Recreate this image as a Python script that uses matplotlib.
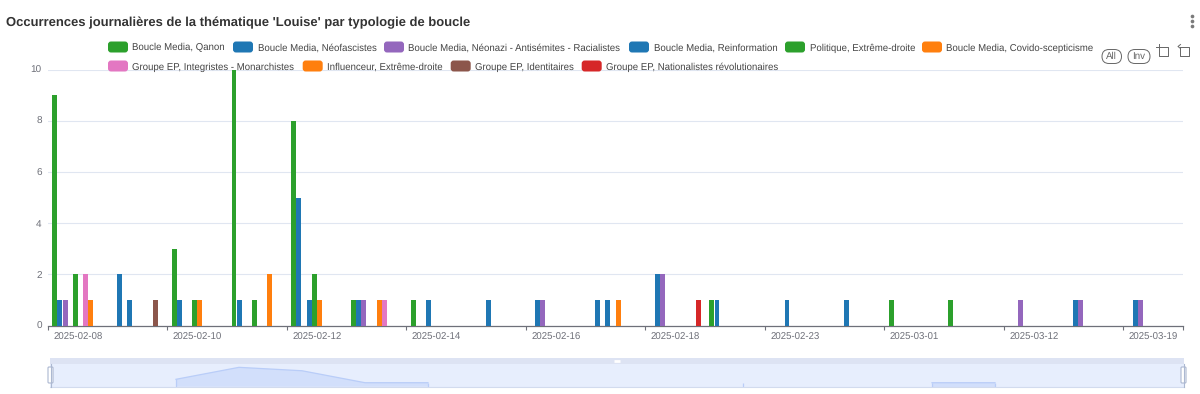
import numpy as np
import matplotlib
matplotlib.use('Agg')
import matplotlib.pyplot as plt
from matplotlib.patches import FancyBboxPatch

plt.rcParams['font.family'] = ['Liberation Sans', 'DejaVu Sans']
plt.rcParams['text.hinting'] = 'no_hinting'

title = "Occurrences journalières de la thématique 'Louise' par typologie de boucle"

# one value per day shown on the axis (19 bands), only every other label is visible
tick_labels = ['2025-02-08', '2025-02-10', '2025-02-12', '2025-02-14', '2025-02-16',
               '2025-02-18', '2025-02-23', '2025-03-01', '2025-03-12', '2025-03-19']

names = ['Boucle Media, Qanon', 'Boucle Media, Néofascistes',
         'Boucle Media, Néonazi - Antisémites - Racialistes', 'Boucle Media, Reinformation',
         'Politique, Extrême-droite', 'Boucle Media, Covido-scepticisme',
         'Groupe EP, Integristes - Monarchistes', 'Influenceur, Extrême-droite',
         'Groupe EP, Identitaires', 'Groupe EP, Nationalistes révolutionaires']
colors = ['#2ca02c', '#1f77b4', '#9467bd', '#1f77b4', '#2ca02c',
          '#ff7f0e', '#e377c2', '#ff7f0e', '#8c564b', '#d62728']

qanon =         [9, 0, 3, 10, 8, 1, 1, 0, 0, 0, 0, 1, 0, 0, 1, 1, 0, 0, 0]
neofascistes =  [1, 2, 1, 1, 5, 1, 0, 0, 1, 1, 2, 1, 0, 0, 0, 0, 0, 1, 1]
neonazi =       [1, 0, 0, 0, 0, 1, 0, 0, 1, 0, 2, 0, 0, 0, 0, 0, 1, 1, 1]
reinformation = [0, 1, 0, 0, 1, 0, 1, 1, 0, 1, 0, 0, 1, 1, 0, 0, 0, 0, 0]
politique =     [2, 0, 1, 1, 2, 0, 0, 0, 0, 0, 0, 0, 0, 0, 0, 0, 0, 0, 0]
covido =        [0, 0, 1, 0, 1, 1, 0, 0, 0, 1, 0, 0, 0, 0, 0, 0, 0, 0, 0]
integristes =   [2, 0, 0, 0, 0, 1, 0, 0, 0, 0, 0, 0, 0, 0, 0, 0, 0, 0, 0]
influenceur =   [1, 0, 0, 2, 0, 0, 0, 0, 0, 0, 0, 0, 0, 0, 0, 0, 0, 0, 0]
identitaires =  [0, 1, 0, 0, 0, 0, 0, 0, 0, 0, 0, 0, 0, 0, 0, 0, 0, 0, 0]
nationalistes = [0, 0, 0, 0, 0, 0, 0, 0, 0, 0, 1, 0, 0, 0, 0, 0, 0, 0, 0]
series = [qanon, neofascistes, neonazi, reinformation, politique,
          covido, integristes, influenceur, identitaires, nationalistes]

W, H = 1200, 394
GREY = '#6E7079'


def px_axes(left, top, right, bottom):
    # axes from pixel box
    return fig.add_axes([left / W, 1 - bottom / H, (right - left) / W, (bottom - top) / H])


fig = plt.figure(figsize=(W / 100, H / 100), dpi=100, facecolor='white')

# main chart
ax = px_axes(48, 69.5, 1183, 325.5)
n = len(qanon)
days = np.arange(n)
slot = 5.13 / (1135 / n)
for i, (vals, col) in enumerate(zip(series, colors)):
    vals = np.array(vals)
    keep = vals > 0
    ax.bar(days[keep] + (i - 4.5) * slot, vals[keep], width=slot * 0.96, color=col,
           linewidth=0, zorder=3)
ax.set_xlim(-0.5, n - 0.5)
ax.set_ylim(0, 10)
ax.set_yticks([0, 2, 4, 6, 8, 10])
ax.grid(axis='y', color='#E0E6F1', linewidth=0.8, zorder=0)
ax.set_axisbelow(True)
for s in ['top', 'left', 'right']:
    ax.spines[s].set_visible(False)
ax.spines['bottom'].set_color(GREY)
ax.spines['bottom'].set_linewidth(0.9)
edges = list(np.arange(-0.5, n - 0.5, 2)) + [n - 0.5]
ax.set_xticks(edges)
ax.set_xticklabels([])
ax.set_xticks(days[::2], minor=True)
ax.set_xticklabels(tick_labels, minor=True, fontsize=6.95, color=GREY)
ax.tick_params(axis='x', which='major', length=3, width=0.8, color=GREY)
ax.tick_params(axis='x', which='minor', length=0, pad=5.5)
ax.tick_params(axis='y', length=0, pad=4.5, labelsize=7.2, labelcolor=GREY)

# slider preview of the first series
mini = px_axes(50, 363.5, 1184, 386.7)
mini.set_facecolor('#E7EEFD')
shadow = np.array(qanon, dtype=float)
shadow[shadow == 0] = np.nan
mini.set_xlim(0, n - 1)
mini.set_ylim(-1.33, 12.24)
mini.fill_between(days, -1.33, shadow, color='#D2DFFB', linewidth=0)
mini.plot(days, shadow, color='#B9CDF8', linewidth=0.9)
# a run of days is closed by a vertical stroke on both ends
padded = np.r_[np.nan, shadow, np.nan]
for d in days[1:]:
    if not np.isnan(shadow[d]) and (np.isnan(padded[d]) or np.isnan(padded[d + 2])):
        mini.vlines(d, -1.33, shadow[d], color='#B9CDF8', linewidth=0.9)
mini.set_xticks([])
mini.set_yticks([])
for s in mini.spines.values():
    s.set_visible(False)
mini.spines['bottom'].set_visible(True)
mini.spines['bottom'].set_color('#D2DBEE')

# everything else sits on a pixel overlay
top = fig.add_axes([0, 0, 1, 1], facecolor='none')
top.set_xlim(0, W)
top.set_ylim(H, 0)
top.axis('off')

top.text(6, 26, title, fontsize=9.39, fontweight='bold', color='#333333', va='baseline')

# legend
leg_x = [108, 233, 384, 629, 785, 922, 108, 302.7, 450.7, 581.7]
leg_y = [47, 47, 47, 47, 47, 47, 66, 66, 66, 66]
for name, col, x, y in zip(names, colors, leg_x, leg_y):
    top.add_patch(FancyBboxPatch((x, y - 5.5), 20, 11, boxstyle='round,pad=0,rounding_size=3',
                                 facecolor=col, edgecolor='none', linewidth=0))
    top.text(x + 24.5, y + 3.6, name, fontsize=6.93, color='#444444', va='baseline')

# All / Inv buttons
for label, x0, x1 in [('All', 1102, 1121.5), ('Inv', 1128, 1150)]:
    top.add_patch(FancyBboxPatch((x0, 49.5), x1 - x0, 14, boxstyle='round,pad=0,rounding_size=7',
                                 facecolor='white', edgecolor='#666666', linewidth=0.7))
    top.text((x0 + x1) / 2, 56.7, label, fontsize=7, color='#666666', ha='center', va='center')

# toolbox icons
top.plot([1156, 1168, 1168, 1158.5, 1158.5], [46.5, 46.5, 55.5, 55.5, 44], color='#666666', lw=0.7)
top.plot([1181, 1189, 1189, 1179.5, 1179.5], [46.5, 46.5, 55.5, 55.5, 47], color='#666666', lw=0.7)
top.plot([1180.5, 1178, 1180.5], [44.5, 46.5, 48.5], color='#666666', lw=0.7)

# menu dots
top.scatter([1191.7] * 3, [16, 20.7, 25.7], s=7, color='#7a7a7a', linewidths=0)

# slider top strip, handles
top.fill_between([50, 1184], 358, 363.5, color='#DDE3F3', linewidth=0)
top.plot([617 - 3, 617 + 3], [360.7, 360.7], color='white', lw=2, solid_capstyle='butt')
for x in [50.5, 1183.5]:
    top.plot([x, x], [363.5, 386.7], color='#ACB8D1', lw=0.8)
    top.add_patch(FancyBboxPatch((x - 2.5, 367), 5, 16, boxstyle='round,pad=0,rounding_size=1',
                                 facecolor='white', edgecolor='#ACB8D1', linewidth=0.8))

fig.savefig('out.png', dpi=100)
